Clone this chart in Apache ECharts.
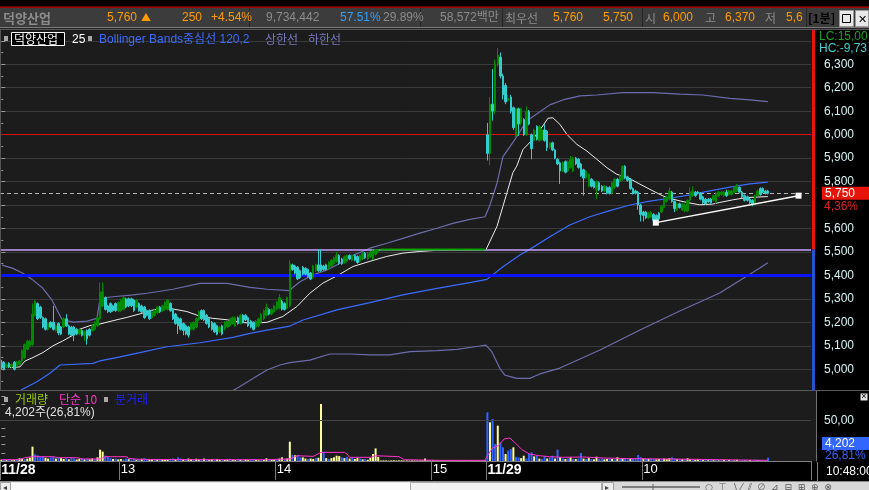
<!DOCTYPE html>
<html><head><meta charset="utf-8">
<script src="https://cdn.jsdelivr.net/npm/echarts@6/dist/echarts.min.js"></script>
<style>html,body{margin:0;padding:0;background:#1c1c1c;overflow:hidden}#c{width:869px;height:490px}</style>
</head><body><div id="c"></div>
<script>
// ---------------- DATA ----------------
const N_SLOTS = 312;
const tickLabels = [[0,'11/28'],[46,'13'],[106,'14'],[166,'15'],[187,'11/29'],[247,'10']];
const OPEN_PRICE = 6000, PREV_CLOSE = 5510, CUR_PRICE = 5750, LEVEL_5400 = 5400;

// [open, close, low, high]
const day1Ohlc = [
[5030,5005,5000,5040],[5030,5000,4995,5035],[5010,5020,5005,5025],[5025,5010,5005,5030],[5010,5020,5005,5025],[5030,5000,4995,5035],[5015,5030,5010,5035],[5020,5035,5015,5040],
[5035,5080,5030,5085],[5050,5105,5045,5110],[5085,5120,5080,5125],[5100,5120,5095,5125],[5105,5235,5100,5280],[5230,5290,5225,5295],[5280,5215,5210,5285],[5265,5220,5215,5270],
[5220,5180,5175,5225],[5215,5170,5165,5220],[5170,5195,5165,5200],[5200,5180,5175,5205],[5200,5170,5165,5270],[5165,5185,5160,5190],[5195,5155,5145,5200],[5180,5150,5145,5185],
[5180,5215,5175,5220],[5215,5185,5180,5235],[5185,5150,5145,5190],[5180,5145,5140,5185],[5180,5145,5120,5185],[5170,5150,5145,5175],[5150,5170,5145,5175],[5165,5145,5140,5170],
[5145,5160,5120,5165],[5165,5130,5105,5170],[5170,5145,5140,5175],[5165,5185,5160,5190],[5170,5200,5165,5205],[5185,5220,5180,5225],[5215,5330,5210,5370],[5270,5330,5265,5370],
[5305,5255,5250,5310],[5270,5245,5240,5275],[5280,5245,5240,5285],[5270,5250,5245,5275],[5280,5250,5245,5285],[5250,5285,5245,5290],[5250,5295,5245,5300],[5255,5305,5250,5315],
[5300,5265,5260,5305],[5300,5270,5265,5305],[5300,5270,5265,5305],[5295,5250,5245,5300],[5265,5295,5260,5300],[5280,5250,5245,5285],[5270,5245,5240,5275],[5265,5220,5215,5270],
[5250,5230,5225,5255],[5250,5215,5210,5255],[5220,5245,5215,5250],[5230,5250,5225,5255],[5240,5265,5235,5270],[5265,5245,5240,5270],[5250,5270,5245,5275],[5255,5285,5250,5290],
[5255,5295,5250,5300],[5280,5250,5245,5285],[5255,5215,5210,5260],[5235,5195,5190,5240],[5220,5185,5150,5225],[5215,5170,5165,5220],[5195,5165,5145,5200],[5185,5150,5145,5190],
[5180,5145,5135,5185],[5170,5195,5165,5200],[5170,5200,5165,5205],[5180,5215,5175,5220],[5210,5245,5205,5250],[5250,5215,5210,5255],[5250,5210,5205,5255],[5230,5195,5190,5235],
[5215,5180,5175,5220],[5200,5170,5165,5205],[5195,5160,5155,5200],[5185,5150,5145,5190],[5160,5180,5155,5185],[5185,5150,5145,5190],[5170,5200,5165,5205],[5180,5205,5175,5210],
[5185,5215,5180,5220],[5195,5220,5190,5225],[5185,5220,5180,5225],[5220,5195,5190,5225],[5195,5230,5190,5235],[5230,5200,5195,5235],[5230,5210,5205,5235],[5220,5185,5180,5225],
[5205,5180,5175,5210],[5200,5170,5165,5205],[5180,5205,5175,5210],[5185,5215,5180,5220],[5200,5235,5195,5240],[5215,5250,5210,5255],[5230,5265,5225,5280],[5255,5235,5230,5260],
[5235,5255,5230,5260],[5245,5270,5240,5275],[5255,5285,5250,5290],[5260,5305,5255,5320],[5290,5255,5250,5295],[5280,5255,5250,5285],[5260,5305,5255,5310],[5270,5450,5265,5465],
[5445,5425,5420,5450],[5440,5410,5405,5445],[5435,5385,5380,5440],[5420,5390,5385,5425],[5435,5405,5400,5440],[5430,5405,5400,5435],[5425,5395,5390,5430],[5410,5385,5380,5415],
[5390,5440,5385,5445],[5420,5445,5415,5450],[5445,5420,5415,5510],[5445,5420,5415,5510],[5440,5425,5420,5445],[5445,5425,5420,5450],[5430,5455,5425,5460],[5440,5465,5435,5470],
[5450,5475,5445,5480],[5460,5485,5455,5500],[5485,5450,5445,5490],[5470,5450,5445,5475],[5455,5480,5450,5485],[5460,5485,5455,5490],[5485,5470,5465,5490],[5465,5485,5460,5490],
[5485,5465,5460,5490],[5480,5455,5450,5485],[5460,5485,5455,5490],[5470,5495,5465,5500],[5495,5475,5470,5500],[5470,5495,5465,5500],[5480,5500,5475,5505],[5470,5505,5465,5510],
[5490,5510,5485,5510],[5500,5510,5495,5510],
[5510,5510,5510,5510],[5510,5510,5510,5510],[5510,5510,5510,5510],[5510,5510,5510,5510],[5510,5510,5510,5510],[5510,5510,5510,5510],[5510,5510,5510,5510],[5510,5510,5510,5510],
[5510,5510,5510,5510],[5510,5510,5510,5510],[5510,5510,5510,5510],[5510,5510,5510,5510],[5510,5510,5510,5510],[5510,5510,5510,5510],[5510,5510,5510,5510],[5510,5510,5510,5510],
[5510,5510,5510,5510],[5510,5510,5510,5510],[5510,5510,5510,5510],[5510,5510,5510,5510],[5510,5510,5510,5510],[5510,5510,5510,5510],[5510,5510,5510,5510],[5510,5510,5510,5510],
[5510,5510,5510,5510],[5510,5510,5510,5510],[5510,5510,5510,5510],[5510,5510,5510,5510],[5510,5510,5510,5510],[5510,5510,5510,5510],[5510,5510,5510,5510],[5510,5510,5510,5510],
[5510,5510,5510,5510],[5510,5510,5510,5510],[5510,5510,5510,5510],[5510,5510,5510,5510],[5510,5510,5510,5510],[5510,5510,5510,5510],[5510,5510,5510,5510],[5510,5510,5510,5510],
[5510,5510,5510,5510]
];
const day2Ohlc = [
[6000,5920,5890,6050],[5920,6130,5870,6160],[6130,6100,6060,6280],[6100,6300,6090,6320],[6300,6340,6290,6370],[6330,6250,6240,6350],[6250,6170,6150,6260],[6210,6140,6130,6220],
[6145,6155,6140,6170],[6160,6100,6090,6170],[6115,6030,6020,6120],[5995,6110,5990,6115],[6110,6045,5995,6115],[6050,6110,6040,6115],[6065,6000,5995,6070],[6000,6100,5995,6120],
[6100,6045,6040,6105],[6000,5940,5895,6005],[5975,6020,5970,6025],[6035,5980,5975,6040],[5975,6035,5970,6040],[5980,6020,5975,6025],[6020,5975,5970,6045],[6015,5945,5930,6020],
[5945,5965,5940,5970],[5965,5935,5930,5970],[5935,5900,5895,5940],[5895,5875,5870,5900],[5880,5845,5790,5885],[5845,5880,5840,5885],[5885,5840,5835,5890],[5845,5885,5840,5890],
[5860,5895,5855,5910],[5845,5900,5840,5905],[5900,5875,5870,5905],[5895,5860,5855,5900],[5875,5825,5820,5880],[5850,5815,5740,5855],[5815,5845,5810,5850],[5780,5830,5775,5835],
[5810,5780,5775,5815],[5800,5775,5770,5805],[5765,5800,5725,5805],[5795,5765,5760,5800],[5780,5760,5755,5785],[5760,5780,5755,5785],[5775,5750,5745,5780],[5775,5750,5745,5780],
[5750,5795,5745,5800],[5775,5810,5770,5815],[5810,5780,5775,5815],[5800,5825,5795,5830],[5810,5865,5805,5870],[5865,5815,5810,5870],[5820,5805,5800,5825],[5810,5770,5765,5815],
[5770,5750,5745,5775],[5760,5750,5745,5765],[5755,5700,5680,5760],[5700,5660,5630,5705],[5670,5655,5630,5675],[5670,5645,5640,5675],[5645,5665,5640,5670],[5650,5670,5645,5675],
[5660,5635,5625,5665],[5655,5635,5630,5660],[5665,5640,5635,5670],[5670,5695,5665,5700],[5690,5730,5685,5735],[5715,5735,5710,5740],[5725,5760,5720,5775],[5755,5715,5710,5760],
[5715,5685,5670,5720],[5680,5705,5675,5710],[5705,5690,5685,5710],[5680,5705,5675,5710],[5675,5700,5670,5705],[5675,5720,5670,5725],[5720,5755,5715,5775],[5740,5760,5735,5780],
[5755,5740,5735,5760],[5755,5750,5745,5760],[5750,5725,5720,5755],[5735,5710,5705,5740],[5725,5705,5700,5730],[5725,5715,5710,5730],[5725,5710,5705,5730],[5720,5740,5715,5745],
[5710,5750,5705,5755],[5740,5755,5735,5760],[5745,5755,5740,5760],[5740,5755,5735,5760],[5755,5740,5735,5765],[5745,5760,5740,5765],[5745,5760,5740,5765],[5755,5775,5750,5780],
[5760,5785,5755,5790],[5775,5755,5750,5780],[5755,5735,5730,5760],[5740,5720,5715,5745],[5735,5720,5715,5740],[5725,5710,5705,5730],[5720,5705,5695,5725],[5710,5740,5705,5745],
[5740,5760,5735,5765],[5770,5745,5740,5775],[5770,5755,5750,5775],[5760,5750,5745,5765],[5760,5750,5745,5765]
];

const day1Vol = [
1500,2000,1200,1800,1000,1500,2200,3300,2800,2500,3000,4200,
17600,8200,7000,5000,5500,4000,3000,4500,5000,3000,4000,3500,
2500,3500,2000,4200,3000,1800,2500,3200,2000,2800,2200,3000,
2000,4500,13900,11500,6500,5000,3500,2500,3000,2000,2500,2000,
3000,2200,1800,2500,1500,2000,2800,3500,2500,2000,1800,2500,
1500,2000,2200,1800,1500,2500,3000,2500,4500,3000,2500,2000,
3000,2500,2000,2800,1800,2500,3000,2000,1500,2000,1800,2500,
1500,2000,1200,1800,2500,1500,1200,2000,1500,1200,1800,1200,
1500,2500,1500,1000,1500,1200,3300,1500,2000,2500,1800,3000,
4500,2500,3000,23700,7500,7000,7400,4500,4500,3000,2500,3000,
2500,3500,4000,70000,11400,3500,2500,3500,4500,6500,6000,4500,
3500,5000,3000,4500,2500,4000,3000,2000,2500,1500,4000,8600,15500,5000,
600,800,700,500,700,900,600,700,800,600,700,500,800,700,600,700,900,
3000,
700,600,800,500,700,600,900,700,600,800,700,500,600,700,800,600,700,900,600,700,500,800,700
];
const day1VolUp = [
1,0,1,0,1,1,0,1,1,0,1,1, 1,0,0,0,0,1,1,0,0,1,0,1, 1,0,1,0,0,1,1,0,1,0,1,1, 0,1,1,1,0,0,0,1,0,1,1,0,
0,1,0,0,1,0,1,0,0,1,1,0, 1,0,1,1,1,0,0,1,0,0,1,0, 1,1,0,1,1,0,1,0,1,1,0,1, 1,0,1,1,0,1,1,0,1,0,1,1,
0,0,1,1,0,1,1,0,1,1,0,1, 1,0,1,1,0,1,0,0,1,1,0,1, 1,0,1,1,0,1,0,1,1,1,1,0, 1,0,1,0,1,1,0,1,0,1,1,1,1,1,
1,1,1,1,1,1,1,1,1,1,1,1,1,1,1,1,1,1,1,1,1,1,1,1,1,1,1,1,1,1,1,1,1,1,1,1,1,1,1,1,1
];
const day2Vol = [
59800,47500,51600,20900,43400,22900,16800,8600,12700,14700,16800,5000,
4500,3500,6500,3000,8600,10600,5700,6500,3000,2500,5700,3000,
4500,6500,3000,13900,4500,3000,2500,3000,4500,2500,2500,3000,
9800,3000,2500,3500,2500,2000,5300,2500,3000,2000,2500,3000,
2500,2000,4500,2500,3500,2500,2000,3000,2500,3000,7400,4500,
3000,2500,2500,3000,2500,2000,2500,2000,3000,2500,3300,4500,
3000,2500,2000,2500,2000,3300,2500,2000,1500,2500,1500,1200,
1500,1000,1200,1000,1500,800,1000,1500,800,1200,1000,800,
1500,1000,1200,800,1000,1200,800,1500,1000,1200,800,1000,4202
];
const day2VolUp = [
0,1,0,0,1,0,0,1,0,0,1,0, 0,1,1,0,0,0,1,0,1,0,0,1, 0,0,1,0,1,0,1,0,1,0,1,0, 0,1,0,1,0,1,1,0,0,1,1,0,
1,0,1,0,1,0,0,1,0,0,0,0, 1,0,1,0,0,1,1,0,1,1,1,0, 0,1,0,1,0,1,1,0,1,1,0,1, 0,1,0,1,0,1,0,1,0,1,0,1,
1,0,0,1,0,1,0,0,1,0,0,0,0
];

// indicator lines: [bar index, value]
const ma25Pts = [[3.3,5007],[7.2,5010],[9.1,5035],[12.2,5050],[16,5071],[19.9,5100],[23.7,5121],[27.2,5143],[30.3,5171],[34.1,5186],[38,5193],[43,5207],[48.3,5221],[53.3,5236],[57.2,5250],[62.2,5260],[66,5257],[71.4,5246],[76.4,5226],[81.4,5217],[86.8,5211],[91.8,5200],[96.8,5196],[102.2,5200],[108.3,5225],[113.7,5267],[118.7,5324],[123.7,5367],[129.1,5398],[135.3,5438],[141.8,5460],[148.3,5481],[154.5,5495],[161,5502],[167.6,5507],[186.4,5508],[190.7,5609],[193,5695],[194.5,5752],[196.8,5838],[198.3,5866],[200.7,5937],[204.5,5980],[208.3,6037],[210.3,6070],[212.2,6072],[214.9,6044],[217.6,6001],[221.4,5959],[225.3,5930],[229.1,5895],[233,5859],[236.8,5831],[241,5817],[245.7,5789],[250.7,5760],[254.5,5739],[258.3,5725],[263.7,5711],[268.7,5701],[273.7,5704],[276.4,5711],[281.4,5722],[286.8,5732],[294.9,5736]];
const bbMidPts = [[0,4850],[8.3,4916],[13.7,4947],[18.7,4983],[22.6,5018],[35.3,5025],[38,5036],[45.7,5053],[53.3,5071],[63.7,5096],[76.4,5113],[89.1,5136],[95.7,5153],[102.2,5167],[111,5184],[116.1,5210],[129.1,5253],[141.8,5284],[154.5,5317],[167.6,5345],[180.3,5369],[186.8,5383],[193,5437],[199.5,5487],[203.3,5511],[211,5565],[218.7,5615],[226.4,5650],[234.1,5676],[241.8,5700],[249.5,5717],[257.2,5729],[264.9,5743],[272.6,5760],[280.3,5776],[288,5790],[294.9,5798]];
const bbUpPts = [[0.3,5444],[4.5,5430],[8.3,5409],[12.2,5380],[16,5345],[19.5,5295],[21.4,5253],[23.3,5213],[27.6,5201],[33,5205],[36.8,5217],[38,5302],[43,5309],[50.7,5317],[56.1,5324],[66,5341],[76.4,5366],[86.8,5366],[95.7,5349],[102.2,5341],[111,5335],[111.8,5345],[114.9,5373],[119.9,5402],[125.3,5423],[130.3,5452],[134.1,5480],[141.8,5516],[148.3,5537],[154.5,5558],[161,5580],[167.6,5601],[173.7,5622],[180.3,5639],[186.1,5650],[188,5700],[190.7,5793],[193,5906],[195.7,5949],[198.3,5991],[200.7,6034],[203.3,6068],[207.2,6098],[211,6127],[216,6148],[222.6,6165],[229.1,6169],[239.1,6179],[250.7,6179],[261,6173],[269.9,6169],[280.3,6155],[288,6148],[294.9,6141]];
const bbLowPts = [[84.1,4880],[90.7,4919],[96.8,4961],[102.2,4997],[107.2,5018],[111,5028],[118.7,5039],[126.4,5065],[134.1,5065],[141.8,5061],[149.5,5061],[157.2,5075],[167.6,5079],[175.3,5085],[184.1,5099],[186.4,5103],[188.7,5075],[191.8,5004],[193.7,4975],[198.3,4961],[203.3,4961],[207.2,4980],[214.9,5005],[230.3,5082],[245.7,5167],[261,5248],[276.4,5325],[291.8,5432],[294.9,5454]];
const volMaPts = [[0,1600],[7,1600],[9,4100],[12,5300],[20,5300],[22,4100],[29,4100],[31,2500],[38,2500],[40,5300],[48,5300],[49,3300],[53,2000],[76,1600],[102,1600],[111,2500],[114,6500],[120,5700],[123,10600],[132,10600],[133,8600],[134,4500],[142,4500],[144,6500],[153,5300],[155,1600],[169,800],[186,800],[187,6500],[189,16000],[191.2,18800],[193.4,27000],[195.6,28300],[197.5,22900],[200.3,13900],[203.2,8600],[207,6500],[210.9,5300],[216,4500],[223.8,4900],[231.5,3700],[241.7,2900],[254.6,2500],[267.4,2000],[276.3,1600],[295,800]];
const trendPts = [[251.8,5625],[306.7,5740]];

// ---------------- BUILD ----------------
const categories = [];
for (let i = 0; i < N_SLOTS; i++) {
  let d, m;
  if (i < 187) { d = '11/28'; m = 12*60 + 14 + i; } else { d = '11/29'; m = 9*60 + (i - 187); }
  categories.push(d + ' ' + String(Math.floor(m/60)).padStart(2,'0') + ':' + String(m%60).padStart(2,'0'));
}
const ohlc = day1Ohlc.concat(day2Ohlc);
const vols = day1Vol.concat(day2Vol);
const volUp = day1VolUp.concat(day2VolUp);
const volData = vols.map((v, i) => ({ value: v, itemStyle: { color: volUp[i] ? '#ffff99' : '#3366ff' } }));
// runs of unchanged-price (doji) bars, drawn as a joined green line as the HTS does
const flatPts = [];
ohlc.forEach((b, i) => { if (b[0] === b[1] && b[2] === b[3] && b[0] === b[2]) flatPts.push([i, b[1]]); });
const labelMap = {}; tickLabels.forEach(t => labelMap[t[0]] = t[1]);

const FN = '"Liberation Sans","Noto Sans CJK KR",sans-serif';
const FK = '"Noto Sans CJK KR","Liberation Sans",sans-serif';

const chart = echarts.init(document.getElementById('c'), null, { renderer: 'canvas' });
const option = {
  animation: false,
  backgroundColor: '#1c1c1c',
  grid: [
    { left: 0, top: 29.1, width: 811, height: 363.6, outerBoundsMode: 'none', containLabel: false },
    { left: 0, top: 391, width: 811, height: 70, outerBoundsMode: 'none', containLabel: false }
  ],
  xAxis: [
    { type: 'category', gridIndex: 0, data: categories, boundaryGap: true, show: false },
    { type: 'value', gridIndex: 0, min: -0.5, max: N_SLOTS - 0.5, show: false },
    { type: 'category', gridIndex: 1, data: categories, boundaryGap: true, position: 'bottom',
      axisLine: { show: true, lineStyle: { color: '#808080', width: 1 } },
      axisTick: { show: true, inside: false, length: 19, interval: (idx) => labelMap[idx] !== undefined, lineStyle: { color: '#7a7a7a' } },
      axisLabel: { show: true, interval: (idx) => labelMap[idx] !== undefined, align: 'left', margin: 2, color: '#ffffff',
        formatter: (v, idx) => { const l = labelMap[idx]; if (!l) return ''; return l.indexOf('/') >= 0 ? '{d|' + l + '}' : '{n|' + l + '}'; },
        rich: { d: { fontFamily: FN, fontSize: 14, fontWeight: 'bold', color: '#ffffff' }, n: { fontFamily: FN, fontSize: 13, color: '#ffffff' } } },
      splitLine: { show: false } },
    { type: 'value', gridIndex: 1, min: -0.5, max: N_SLOTS - 0.5, show: false }
  ],
  yAxis: [
    { type: 'value', gridIndex: 0, position: 'right', offset: 7, min: 4900, max: 6450, interval: 100, scale: false,
      axisLine: { show: false },
      axisTick: { show: true, length: 4, lineStyle: { color: '#9a9a9a' } },
      minorTick: { show: true, splitNumber: 2, length: 2, lineStyle: { color: '#9a9a9a' } },
      splitLine: { show: true, lineStyle: { color: '#3a3a3a', width: 1 } },
      minorSplitLine: { show: false },
      axisLabel: { margin: 6, color: '#d4f2f2', fontFamily: FN, fontSize: 12,
        formatter: v => (v >= 5000 && v <= 6300 && v !== 5700) ? v.toLocaleString('en-US') : '' } },
    { type: 'value', gridIndex: 1, position: 'right', offset: 7, min: 0, max: 86000, interval: 10000,
      axisLine: { show: false },
      axisTick: { show: true, length: 4, lineStyle: { color: '#9a9a9a' } },
      splitLine: { show: false },
      axisLabel: { margin: 6, color: '#d4f2f2', fontFamily: FN, fontSize: 12, formatter: v => v === 50000 ? '50,00' : '' } }
  ],
  series: [
    // horizontal price levels, drawn beneath the candles
    { type: 'line', name: 'levels', xAxisIndex: 1, yAxisIndex: 0, data: [], z: 1, silent: true,
      markLine: { silent: true, symbol: 'none', label: { show: false }, animation: false,
        data: [
          { yAxis: OPEN_PRICE, lineStyle: { color: '#dd1010', width: 1, type: 'solid' } },
          { yAxis: CUR_PRICE, lineStyle: { color: '#b4b4b4', width: 1, type: [4, 3] } },
          { yAxis: PREV_CLOSE, lineStyle: { color: '#c8a0ff', width: 1.5, type: 'solid' } },
          { yAxis: LEVEL_5400, lineStyle: { color: '#0a14ff', width: 3, type: 'solid' } }
        ] } },
    { type: 'line', name: 'ma25', xAxisIndex: 1, yAxisIndex: 0, data: ma25Pts, symbol: 'none', z: 3,
      lineStyle: { color: '#ececec', width: 1 } },
    { type: 'line', name: 'bbMid', xAxisIndex: 1, yAxisIndex: 0, data: bbMidPts, symbol: 'none', z: 3,
      lineStyle: { color: '#3a6cff', width: 1.2 } },
    { type: 'line', name: 'bbUp', xAxisIndex: 1, yAxisIndex: 0, data: bbUpPts, symbol: 'none', z: 3,
      lineStyle: { color: '#6c6cac', width: 1.2 } },
    { type: 'line', name: 'bbLow', xAxisIndex: 1, yAxisIndex: 0, data: bbLowPts, symbol: 'none', z: 3,
      lineStyle: { color: '#6c6cac', width: 1.2 } },
    { type: 'candlestick', xAxisIndex: 0, yAxisIndex: 0, data: ohlc, barWidth: 2, z: 5,
      itemStyle: { color: '#008a00', color0: '#33cccc', borderColor: '#008a00', borderColor0: '#33cccc', borderColorDoji: '#008a00', borderWidth: 1 } },
    { type: 'line', name: 'flat', xAxisIndex: 1, yAxisIndex: 0, data: flatPts, symbol: 'none', z: 6, zlevel: 0,
      lineStyle: { color: '#00a000', width: 2 } },
    { type: 'line', name: 'trend', xAxisIndex: 1, yAxisIndex: 0, data: trendPts, symbol: 'rect', symbolSize: 6, showSymbol: true, z: 7,
      itemStyle: { color: '#ffffff' }, lineStyle: { color: '#ffffff', width: 1.5 } },
    { type: 'bar', xAxisIndex: 2, yAxisIndex: 1, data: volData, barWidth: 2, z: 3,
      markLine: { silent: true, symbol: 'none', label: { show: false }, animation: false,
        data: [{ yAxis: 50000, lineStyle: { color: '#444444', width: 1, type: 'solid' } }] } },
    { type: 'line', name: 'volMa', xAxisIndex: 3, yAxisIndex: 1, data: volMaPts, symbol: 'none', z: 4,
      lineStyle: { color: '#ff33cc', width: 1 } }
  ]
};
chart.setOption(option);

function T(text, x, y, fill, font, align) {
  return { type: 'text', z: 100, silent: true,
    style: { text: text, x: x, y: y, fill: fill, font: font, textAlign: align || 'left', textVerticalAlign: 'middle', align: align || 'left', verticalAlign: 'middle' } };
}
function R(x, y, w, h, fill, z, stroke) {
  const s = { fill: fill };
  if (stroke) { s.stroke = stroke; s.lineWidth = 1; }
  return { type: 'rect', z: z, silent: true, shape: { x: x, y: y, width: w, height: h }, style: s };
}
function L(x1, y1, x2, y2, color, z, w) {
  return { type: 'line', z: z, silent: true, shape: { x1: x1, y1: y1, x2: x2, y2: y2 }, style: { stroke: color, lineWidth: w || 1 } };
}

const yPrev = chart.convertToPixel({ yAxisIndex: 0 }, PREV_CLOSE);
const yCur = chart.convertToPixel({ yAxisIndex: 0 }, CUR_PRICE);
const OR = '#ff9c00', GR = '#8c8c8c';
const HF = '12px ' + FN, HK = '12px ' + FK;
const els = [
  // right columns & bands (behind axes)
  R(815, 29.5, 54, 361.5, '#000000', -1),
  R(817, 391, 52, 71, '#000000', -1),
  L(816.5, 391, 816.5, 462, '#707070', -1),
  R(0, 461.5, 869, 20, '#000000', -1),
  L(817.5, 462, 817.5, 481, '#808080', 50),
  L(0.5, 29.5, 0.5, 390, '#555555', 50),
  // cover / separators between panels
  R(0, 390.5, 815, 3.5, '#1c1c1c', 8),
  R(0, 405, 5, 14, '#1c1c1c', 99),
  L(0, 390.5, 869, 390.5, '#5a5a5a', 50),
  // price position bar (red above previous close, blue below)
  R(812, 29.5, 3, yPrev - 29.5, '#e8140a', 50),
  R(812, yPrev, 3, 390.5 - yPrev, '#2255cc', 50),
  // header
  R(0, 0, 869, 7, '#000000', 90),
  R(0, 6.5, 869, 1.2, '#c80000', 91),
  R(0, 7.7, 869, 19.5, '#3c3c3c', 90),
  R(0, 27, 869, 1, '#7a7a7a', 90),
  R(0, 28, 869, 1.3, '#262626', 90),
  L(0, 29.5, 869, 29.5, '#555555', 90),
  L(249.5, 8, 249.5, 27, '#262626', 91), L(420.5, 8, 420.5, 27, '#262626', 91),
  L(502.5, 8, 502.5, 27, '#262626', 91), L(642.5, 8, 642.5, 27, '#262626', 91),
  L(806.5, 8, 806.5, 27, '#262626', 91),
  T('덕양산업', 3, 18, '#8c8c8c', 'bold 13px ' + FK),
  T('5,760', 107, 18, OR, HF), T('▲', 141, 17.5, OR, '10px ' + FK),
  T('250', 182, 18, OR, HF), T('+4.54%', 211, 18, OR, HF),
  T('9,734,442', 266, 18, GR, HF),
  T('57.51%', 340, 18, '#2f9fff', HF), T('29.89%', 383, 18, GR, HF),
  T('58,572백만', 440, 18, GR, HF),
  T('최우선', 505, 18, GR, HK),
  T('5,760', 553, 18, OR, HF), T('5,750', 603, 18, OR, HF),
  T('시', 645, 18, GR, HK), T('6,000', 663, 18, OR, HF),
  T('고', 705, 18, GR, HK), T('6,370', 725, 18, OR, HF),
  T('저', 765, 18, GR, HK), T('5,6', 786, 18, OR, HF),
  T('[1분]', 808, 18, '#000000', 'bold 12px ' + FK),
  R(839.5, 10.5, 14, 16, '#e8e8e8', 95, '#9a9a9a'),
  R(842.5, 14.5, 8, 8, 'rgba(0,0,0,0)', 96, '#000000'),
  R(855.5, 10.5, 13, 16, '#e8e8e8', 95, '#9a9a9a'),
  T('✕', 862, 18.5, '#000000', '11px ' + FK, 'center'),
  // main legend row
  R(4, 36, 4, 5, '#a8a8a8', 100),
  R(11.5, 32.5, 53, 13, '#000000', 99, '#ffffff'),
  T('덕양산업', 14, 39.5, '#ffffff', '12px ' + FK),
  T('25', 72, 39.5, '#ffffff', '12px ' + FN),
  R(88, 36, 4, 5, '#a8a8a8', 100),
  T('Bollinger Bands중심선 120,2', 99, 39.5, '#3c6cff', '12px ' + FN),
  T('상한선', 265, 39.5, '#7878c0', '12px ' + FK),
  T('하한선', 308, 39.5, '#7878c0', '12px ' + FK),
  // right-side price info
  T('LC:15,00', 819, 36.5, '#20a020', '12px ' + FN),
  T('HC:-9,73', 819, 48.5, '#40d0d0', '12px ' + FN),
  R(822, yCur - 6.5, 47, 13, '#e8140a', 100),
  T('5,750', 825, yCur + 0.5, '#ffffff', '12px ' + FN),
  T('4,36%', 824, yCur + 13.5, '#e02020', '12px ' + FN),
  // volume legend
  R(4, 397, 4, 5, '#a8a8a8', 100),
  T('거래량', 15, 399.5, '#99cc00', '12px ' + FK),
  T('단순 10', 59, 399.5, '#ff33cc', '12px ' + FK),
  R(104, 397, 4, 5, '#a8a8a8', 100),
  T('분거래', 115, 399.5, '#2020ff', '12px ' + FK),
  T('4,202주(26,81%)', 5, 413, '#e0e0e0', '12px ' + FN),
  R(860.5, 393.5, 7, 7, '#e0e0e0', 100),
  T('×', 864, 397, '#000000', '9px ' + FN, 'center'),
  R(822, 437, 47, 13, '#3366ff', 100),
  T('4,202', 825, 443.5, '#ffffff', '12px ' + FN),
  T('26,81%', 825, 455.5, '#3366ff', '12px ' + FN),
  // time on the date band
  T('10:48:00', 826, 471.5, '#ffffff', '12px ' + FN),
  // bottom toolbar
  R(0, 481, 869, 9, '#d8d8d8', 90),
  L(0, 481.5, 869, 481.5, '#8a8a8a', 91),
  R(0.5, 482.5, 10, 8, '#ececec', 92, '#a0a0a0'),
  T('◂', 3, 487, '#404040', '8px ' + FK),
  R(11, 482.5, 399, 8, '#fafafa', 92),
  R(410.5, 482.5, 191, 8, '#f2f2f2', 92, '#a8a8a8'),
  R(602.5, 482.5, 11, 8, '#ececec', 92, '#a0a0a0'),
  T('▸', 605, 487, '#404040', '8px ' + FK),
  L(622, 487, 700, 487, '#606060', 93, 1.5),
  L(653, 484, 653, 490, '#606060', 93, 1),
  T('○  ⊤  ∖ ⁄  ⫽  ∅  ⊿  ⊟  ⊞  ⊕  ⊗', 705, 488, '#555555', '9px "DejaVu Sans"')
];
chart.setOption({ graphic: { elements: els } });
</script>
</body></html>
